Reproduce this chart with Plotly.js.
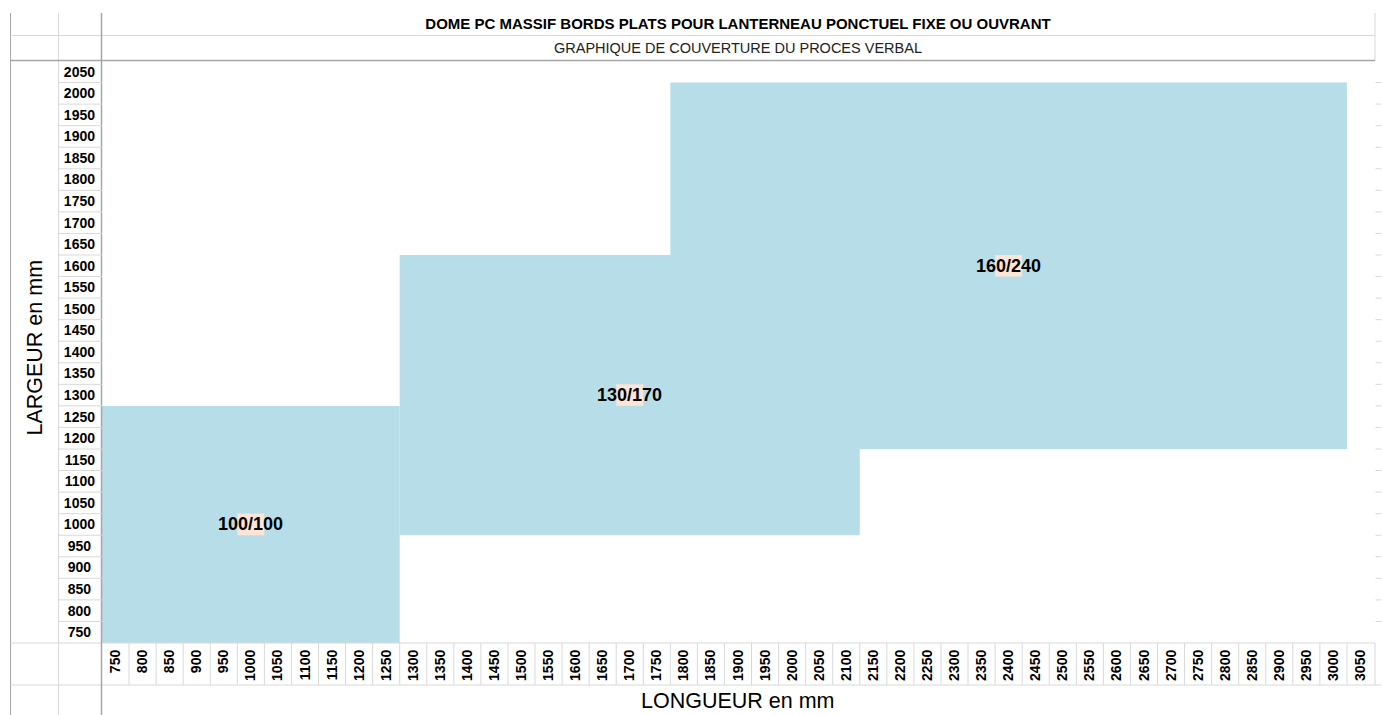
<!DOCTYPE html>
<html>
<head>
<meta charset="utf-8">
<script src="https://cdn.plot.ly/plotly-3.0.1.min.js"></script>
<style>html,body{margin:0;padding:0;background:#fff;}#chart{width:1382px;height:715px;}</style>
</head>
<body>
<div id="chart"></div>
<script>
// ---- Data ----
const lengthTicks = [750,800,850,900,950,1000,1050,1100,1150,1200,1250,1300,1350,1400,1450,1500,1550,1600,1650,1700,1750,1800,1850,1900,1950,2000,2050,2100,2150,2200,2250,2300,2350,2400,2450,2500,2550,2600,2650,2700,2750,2800,2850,2900,2950,3000,3050];
const widthTicks = [750,800,850,900,950,1000,1050,1100,1150,1200,1250,1300,1350,1400,1450,1500,1550,1600,1650,1700,1750,1800,1850,1900,1950,2000,2050];
const regionNames = ["100/100","130/170","160/240"];
const regionLenMin = [750,1300,1800];
const regionLenMax = [1250,2100,3000];
const regionWidMin = [750,1000,1200];
const regionWidMax = [1250,1600,2000];
const labelLen = [1000,1700,2400];
const labelWid = [1000,1300,1600];

const titleText = "DOME PC MASSIF BORDS PLATS POUR LANTERNEAU PONCTUEL FIXE OU OUVRANT";
const subtitleText = "GRAPHIQUE DE COUVERTURE DU PROCES VERBAL";
const xTitle = "LONGUEUR en mm";
const yTitle = "LARGEUR en mm";

// ---- Layout helpers (pixel geometry of the sheet) ----
const W = 1382, H = 715;
const L = 101.5, R = 1374.5, T = 61, B = 643;
const step = 50, half = step/2;
const xp = px => (px - L) / (R - L);
const yp = py => (B - py) / (B - T);

const FONT = "Liberation Sans, Arial, sans-serif";
const fill = "#B7DEE8", peach = "#FCE4D6";
const light = "#D9D9D9", dark = "#A6A6A6";

const shapes = [];
// coverage regions
regionNames.forEach((n,i)=>{
  shapes.push({type:'rect', xref:'x', yref:'y', layer:'below',
    x0:regionLenMin[i]-half, x1:regionLenMax[i]+half,
    y0:regionWidMin[i]-half, y1:regionWidMax[i]+half,
    fillcolor:fill, line:{width:0}});
});
// highlighted label cells
regionNames.forEach((n,i)=>{
  shapes.push({type:'rect', xref:'x', yref:'y', layer:'below',
    x0:labelLen[i]-half, x1:labelLen[i]+half,
    y0:labelWid[i]-half, y1:labelWid[i]+half,
    fillcolor:peach, line:{width:0}});
});
function line(x0,y0,x1,y1,color,w){
  shapes.push({type:'line', xref:'paper', yref:'paper', x0:xp(x0), x1:xp(x1), y0:yp(y0), y1:yp(y1), line:{color:color, width:w||1}});
}
// sheet grid lines
line(10,13,10,715,dark,1);
line(58,13,58,715,light,1);
line(1375.5,13,1375.5,61,light,1);
line(1375.5,643,1375.5,685,light,1);
line(10,35.5,1375.5,35.5,light,1);
line(10,643,1375.5,643,light,1);
line(10,685,1382,685,light,1);
line(101,13,101,715,dark,1.5);
line(10,60.5,1375.5,60.5,dark,1.5);
// row lines in the y label column and at the right edge
widthTicks.slice(0,-1).forEach(v=>{
  shapes.push({type:'line', xref:'paper', yref:'y', x0:xp(58), x1:0, y0:v+half, y1:v+half, line:{color:light,width:1}});
  shapes.push({type:'line', xref:'paper', yref:'y', x0:xp(1376), x1:xp(1382), y0:v+half, y1:v+half, line:{color:light,width:1}});
});
// column lines in the x label row
lengthTicks.slice(0,-1).forEach(v=>{
  shapes.push({type:'line', xref:'x', yref:'paper', x0:v+half, x1:v+half, y0:0, y1:yp(685), line:{color:light,width:1}});
});

const annotations = regionNames.map((n,i)=>({
  x:labelLen[i], y:labelWid[i], xref:'x', yref:'y', text:'<b>'+n+'</b>', showarrow:false,
  font:{family:FONT, size:18, color:'#000'}, xanchor:'center', yanchor:'middle'
}));
annotations.push({x:0.5, y:yp(48), xref:'paper', yref:'paper', text:subtitleText, showarrow:false,
  font:{family:FONT, size:14.5, color:'#222'}, xanchor:'center', yanchor:'middle'});
annotations.push({x:0.5, y:yp(701), xref:'paper', yref:'paper', text:xTitle, showarrow:false, borderpad:0,
  font:{family:FONT, size:21.5, color:'#000'}, xanchor:'center', yanchor:'middle'});
annotations.push({x:xp(34), y:yp(348), xref:'paper', yref:'paper', text:yTitle, textangle:-90, showarrow:false,
  font:{family:FONT, size:21.5, color:'#000'}, xanchor:'center', yanchor:'middle'});

// centre the y labels in their cells: pad shorter labels by half a digit
const yTickText = widthTicks.map(v => String(v).length < 4 ? String(v) + "\u2008" : String(v));

const layout = {
  width:W, height:H,
  margin:{l:L, r:W-R, t:T, b:H-B, pad:0},
  paper_bgcolor:'#fff', plot_bgcolor:'#fff',
  showlegend:false,
  title:{text:'<b>'+titleText+'</b>', x:738/W, xanchor:'center', y:1-23.5/H, yanchor:'middle',
    font:{family:FONT, size:15, color:'#000'}},
  xaxis:{range:[lengthTicks[0]-half, lengthTicks[lengthTicks.length-1]+half], tickmode:'array', tickvals:lengthTicks,
    ticktext:lengthTicks.map(String), tickangle:-90, ticks:'', showgrid:false, zeroline:false, showline:false,
    tickfont:{family:FONT, size:14, color:'#000', weight:700}, fixedrange:true, ticklabelstandoff:3},
  yaxis:{range:[widthTicks[0]-half, widthTicks[widthTicks.length-1]+half], tickmode:'array', tickvals:widthTicks,
    ticktext:yTickText, ticks:'', showgrid:false, zeroline:false, showline:false,
    tickfont:{family:FONT, size:14, color:'#000', weight:700}, fixedrange:true, ticklabelstandoff:6},
  shapes:shapes,
  annotations:annotations
};
const data = [{type:'scatter', x:[], y:[], mode:'markers', hoverinfo:'skip'}];
Plotly.newPlot('chart', data, layout, {displayModeBar:false, staticPlot:true});
</script>
</body>
</html>
